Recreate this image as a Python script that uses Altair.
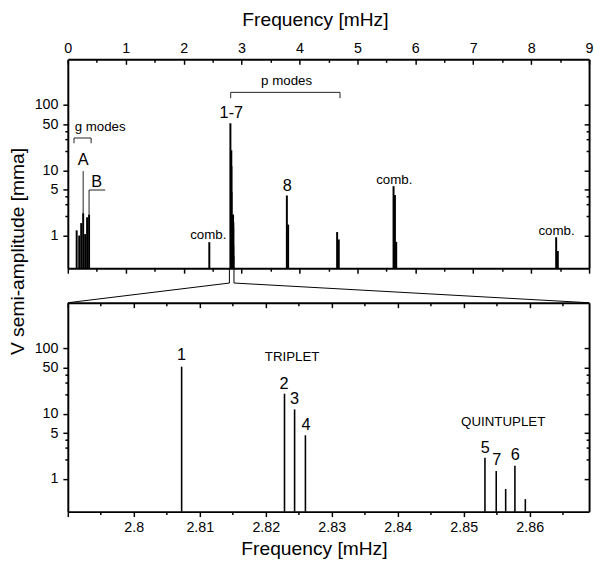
import altair as alt
import pandas as pd

FONT = "Liberation Sans"
W, H = 529, 212          # width of both panels, height of each panel
GAP = 35                 # gap between the two panels
TOT = 2 * H + GAP        # full plot-area height
Y_MIN, Y_MAX = 0.315, 500

# ---------------- data ----------------
# g modes (top panel)
gmode_freq = [0.153, 0.197, 0.231, 0.265, 0.299, 0.333, 0.367]
gmode_amp = [1.2, 1.0, 1.55, 2.2, 1.05, 1.9, 2.1]
# p modes 1-7 and neighbours (both panels)
pmode_freq = [2.80725, 2.82284, 2.82437, 2.82601, 2.85322, 2.85493, 2.85636, 2.85776, 2.85934]
pmode_amp = [52.4, 20.2, 11.6, 4.66, 2.10, 1.32, 0.70, 1.59, 0.49]
# other peaks (top panel)
other_freq = [2.443, 3.782, 3.804, 4.650, 4.678, 5.624, 5.648, 5.670, 8.432, 8.460]
other_amp = [0.79, 4.1, 1.47, 1.13, 0.87, 5.7, 4.17, 0.80, 0.94, 0.58]

zoom_range = [2.79, 2.869]

# ticks
top_major = [0, 1, 2, 3, 4, 5, 6, 7, 8, 9]
top_minor = [0.5, 1.5, 2.5, 3.5, 4.5, 5.5, 6.5, 7.5, 8.5]
zoom_major = [2.79, 2.80, 2.81, 2.82, 2.83, 2.84, 2.85, 2.86]
zoom_minor = [2.795, 2.805, 2.815, 2.825, 2.835, 2.845, 2.855, 2.865]
y_major = [1, 5, 10, 50, 100]
y_minor = [2, 3, 4, 20, 30, 40]

# annotations (top panel)
top_text = ["g modes", "A", "B", "p modes", "1-7", "comb.", "8", "comb.", "comb."]
top_text_f = [0.558, 0.265, 0.50, 3.777, 2.824, 2.426, 3.787, 5.636, 8.438]
top_text_a = [45.3, 14.1, 6.7, 233, 76.4, 1.0, 5.74, 7.05, 1.16]
top_text_size = [13.5, 16.5, 16.5, 13.5, 16.5, 13.5, 16.5, 13.5, 13.5]

# brackets / leaders (top panel)
path_id = ["g", "g", "g", "g", "p", "p", "p", "p", "B", "B", "B", "A", "A"]
path_f = [0.107, 0.107, 0.402, 0.402, 2.812, 2.812, 4.70, 4.70, 0.367, 0.367, 0.646, 0.265, 0.265]
path_a = [25.9, 31.2, 31.2, 25.9, 127, 156, 156, 127, 2.1, 4.98, 4.98, 2.2, 9.7]

# annotations (bottom panel)
zoom_text = ["1", "2", "3", "4", "TRIPLET", "QUINTUPLET", "5", "7", "6"]
zoom_text_f = [2.80725, 2.82278, 2.82437, 2.82610, 2.8240, 2.85599, 2.85325, 2.85500, 2.85780]
zoom_text_a = [77.6, 28.8, 16.9, 6.7, 74.2, 7.5, 2.99, 1.94, 2.29]
zoom_text_size = [16.5, 16.5, 16.5, 16.5, 13.5, 13.5, 16.5, 16.5, 16.5]

# ---------------- tables ----------------
top_spikes = pd.DataFrame({
    "f": gmode_freq + pmode_freq + other_freq,
    "a": gmode_amp + pmode_amp + other_amp,
})
top_spikes["base"] = Y_MIN
zoom_spikes = pd.DataFrame({"f": pmode_freq, "a": pmode_amp})
zoom_spikes["base"] = Y_MIN
top_ann = pd.DataFrame({"t": top_text, "f": top_text_f, "a": top_text_a, "s": top_text_size})
zoom_ann = pd.DataFrame({"t": zoom_text, "f": zoom_text_f, "a": zoom_text_a, "s": zoom_text_size})
paths = pd.DataFrame({"id": path_id, "f": path_f, "a": path_a, "i": list(range(len(path_id)))})
conn = pd.DataFrame({"f": zoom_range})

# scales: top panel occupies [0, H], bottom panel [H+GAP, TOT] in pixels
ys_top = alt.Scale(type="log", domain=[Y_MIN, Y_MAX], nice=False, range=[H, 0])
ys_bot = alt.Scale(type="log", domain=[Y_MIN, Y_MAX], nice=False, range=[TOT, TOT - H])
xs_top = alt.Scale(domain=[0, 9], nice=False, zero=False, range=[0, W])
xs_zoom = alt.Scale(domain=zoom_range, nice=False, zero=False, range=[0, W])


def ax(**kw):
    base = dict(title=None, grid=False, labelFont=FONT, labelFontSize=14.5, labelColor="black",
                domainColor="black", domainWidth=2, tickColor="black", tickWidth=1.5,
                labelFlush=False, labelOverlap=False)
    base.update(kw)
    return alt.Axis(**base)


cond_top = {"condition": {"test": "abs(datum.value - round(datum.value)) < 1e-6", "value": 5}, "value": 3}
cond_zoom = {"condition": {"test": "abs(datum.value*100 - round(datum.value*100)) < 1e-4", "value": 5}, "value": 3}
ytest = "datum.value==1||datum.value==5||datum.value==10||datum.value==50||datum.value==100"
cond_y = {"condition": {"test": ytest, "value": 5}, "value": 3}


def y_left():
    return ax(orient="left", values=y_major + y_minor, tickSize=cond_y, labelPadding=5,
              labelExpr="(" + ytest + ") ? format(datum.value, 'd') : ''")


def y_right():
    return ax(orient="left", offset=-W, values=y_major + y_minor, tickSize=cond_y, labels=False)


def txt(text, x, y, angle=0):
    return alt.Chart(pd.DataFrame({"t": [text]})).mark_text(
        font=FONT, fontSize=19.5, align="center", baseline="middle", angle=angle, color="black"
    ).encode(x=alt.value(x), y=alt.value(y), text="t:N")


# ---------------- top panel ----------------
t_spikes = alt.Chart(top_spikes).mark_rule(strokeWidth=2, color="black").encode(
    x=alt.X("f:Q", scale=xs_top, axis=ax(orient="top", values=top_major, ticks=False, tickSize=0,
                                          labelPadding=4, format="d")),
    y=alt.Y("a:Q", scale=ys_top, axis=y_left()),
    y2="base:Q",
)
t_ann = alt.Chart(top_ann).mark_text(font=FONT, color="black", baseline="middle").encode(
    x=alt.X("f:Q", scale=xs_top, axis=ax(orient="bottom", offset=-TOT, values=top_major + top_minor,
                                          tickSize=cond_top, labels=False, domain=False)),
    y=alt.Y("a:Q", scale=ys_top, axis=y_right()),
    text="t:N",
    size=alt.Size("s:Q", scale=None),
)
t_paths = alt.Chart(paths).mark_line(strokeWidth=1, color="#222").encode(
    x=alt.X("f:Q", scale=xs_top, axis=ax(orient="bottom", offset=-(TOT - H), values=top_major + top_minor,
                                          tickSize=cond_top, labels=False)),
    y=alt.Y("a:Q", scale=ys_top, axis=None),
    detail="id:N",
    order="i:Q",
)
t_conn_v = alt.Chart(conn).mark_rule(strokeWidth=1, color="black").encode(
    x=alt.X("f:Q", scale=xs_top, axis=None), y=alt.value(H), y2=alt.value(H + 15)
)
t_conn_l = alt.Chart(conn.iloc[[0]]).mark_rule(strokeWidth=1, color="black").encode(
    x=alt.X("f:Q", scale=xs_top, axis=None), y=alt.value(H + 15), x2=alt.value(0), y2=alt.value(H + GAP)
)
t_conn_r = alt.Chart(conn.iloc[[1]]).mark_rule(strokeWidth=1, color="black").encode(
    x=alt.X("f:Q", scale=xs_top, axis=None), y=alt.value(H + 15), x2=alt.value(W), y2=alt.value(H + GAP)
)

# ---------------- bottom panel ----------------
z_spikes = alt.Chart(zoom_spikes).mark_rule(strokeWidth=1.6, color="black").encode(
    x=alt.X("f:Q", scale=xs_zoom, axis=ax(orient="bottom", values=zoom_major + zoom_minor,
                                           tickSize=cond_zoom, labelPadding=4,
                                           labelExpr="datum.value < 2.795 || abs(datum.value*100 - round(datum.value*100)) > 1e-4 ? '' : format(datum.value, '.2~f')")),
    y=alt.Y("a:Q", scale=ys_bot, axis=y_left()),
    y2="base:Q",
)
z_ann = alt.Chart(zoom_ann).mark_text(font=FONT, color="black", baseline="middle").encode(
    x=alt.X("f:Q", scale=xs_zoom, axis=ax(orient="bottom", offset=-H, values=zoom_major + zoom_minor,
                                           tickSize=cond_zoom, labels=False)),
    y=alt.Y("a:Q", scale=ys_bot, axis=y_right()),
    text="t:N",
    size=alt.Size("s:Q", scale=None),
)

# invisible anchor fixing the top-left corner of the drawing bounds
anchor = alt.Chart(pd.DataFrame({"k": [0]})).mark_rule(opacity=0, strokeWidth=0).encode(
    x=alt.value(-64), x2=alt.value(-64), y=alt.value(-52), y2=alt.value(-52)
)

chart = alt.layer(
    t_spikes, t_ann, t_paths, t_conn_v, t_conn_l, t_conn_r,
    z_spikes, z_ann,
    txt("Frequency [mHz]", 251.3, -40),
    txt("V semi-amplitude [mma]", -50.5, 195, angle=270),
    txt("Frequency [mHz]", 250.3, TOT + 38),
    anchor,
).resolve_scale(x="independent", y="independent").resolve_axis(
    x="independent", y="independent"
).properties(
    width=W, height=TOT,
    padding={"left": -3.3, "top": -4, "right": 0, "bottom": 0},
).configure_view(stroke=None)

chart.save("out.html", embed_options={"renderer": "svg", "actions": False})
